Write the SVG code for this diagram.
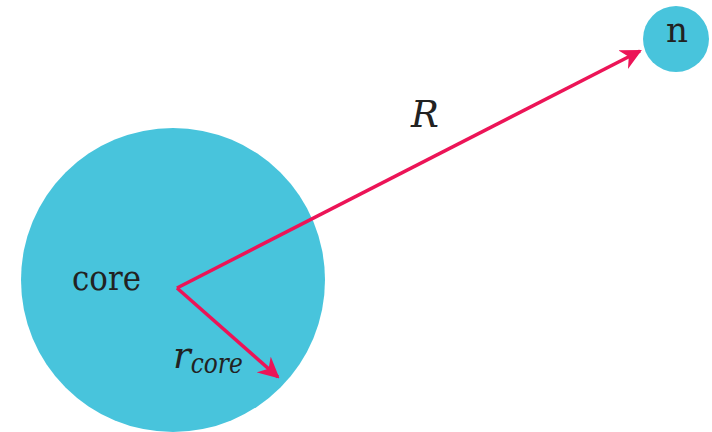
<svg xmlns="http://www.w3.org/2000/svg" width="712" height="432" viewBox="0 0 712 432">
<style>
.node{fill:#48c4dc}
.arr{stroke:#ec1457;stroke-width:3.5;fill:none}
.lbl{font-family:"DejaVu Serif",serif;fill:#222}
</style>
<defs>
<marker id="ah" viewBox="0 0 10 10" refX="9" refY="5" markerWidth="6" markerHeight="6" orient="auto" markerUnits="strokeWidth">
<path d="M0,0 L10,5 L0,10 L3,5 Z" fill="#ec1457"/>
</marker>
</defs>
<rect width="712" height="432" fill="#fff"/>
<g id="core">
<circle class="node" cx="173" cy="280" r="152"/>
<text class="lbl" x="72" y="290" font-size="36" textLength="69" lengthAdjust="spacingAndGlyphs">core</text>
</g>
<g id="n">
<circle class="node" cx="676" cy="39" r="33"/>
<text class="lbl" x="666" y="42" font-size="36" textLength="22" lengthAdjust="spacingAndGlyphs">n</text>
</g>
<g id="connectors">
<line class="arr" x1="177" y1="288" x2="640" y2="51" marker-end="url(#ah)"/>
<line class="arr" x1="177" y1="288" x2="278" y2="377" marker-end="url(#ah)"/>
<text class="lbl" x="411" y="127" font-size="37" font-style="italic">R</text>
<text class="lbl" x="173" y="368" font-size="37" font-style="italic">r<tspan font-size="27" dy="5" textLength="52" lengthAdjust="spacingAndGlyphs">core</tspan></text>
</g>
</svg>
